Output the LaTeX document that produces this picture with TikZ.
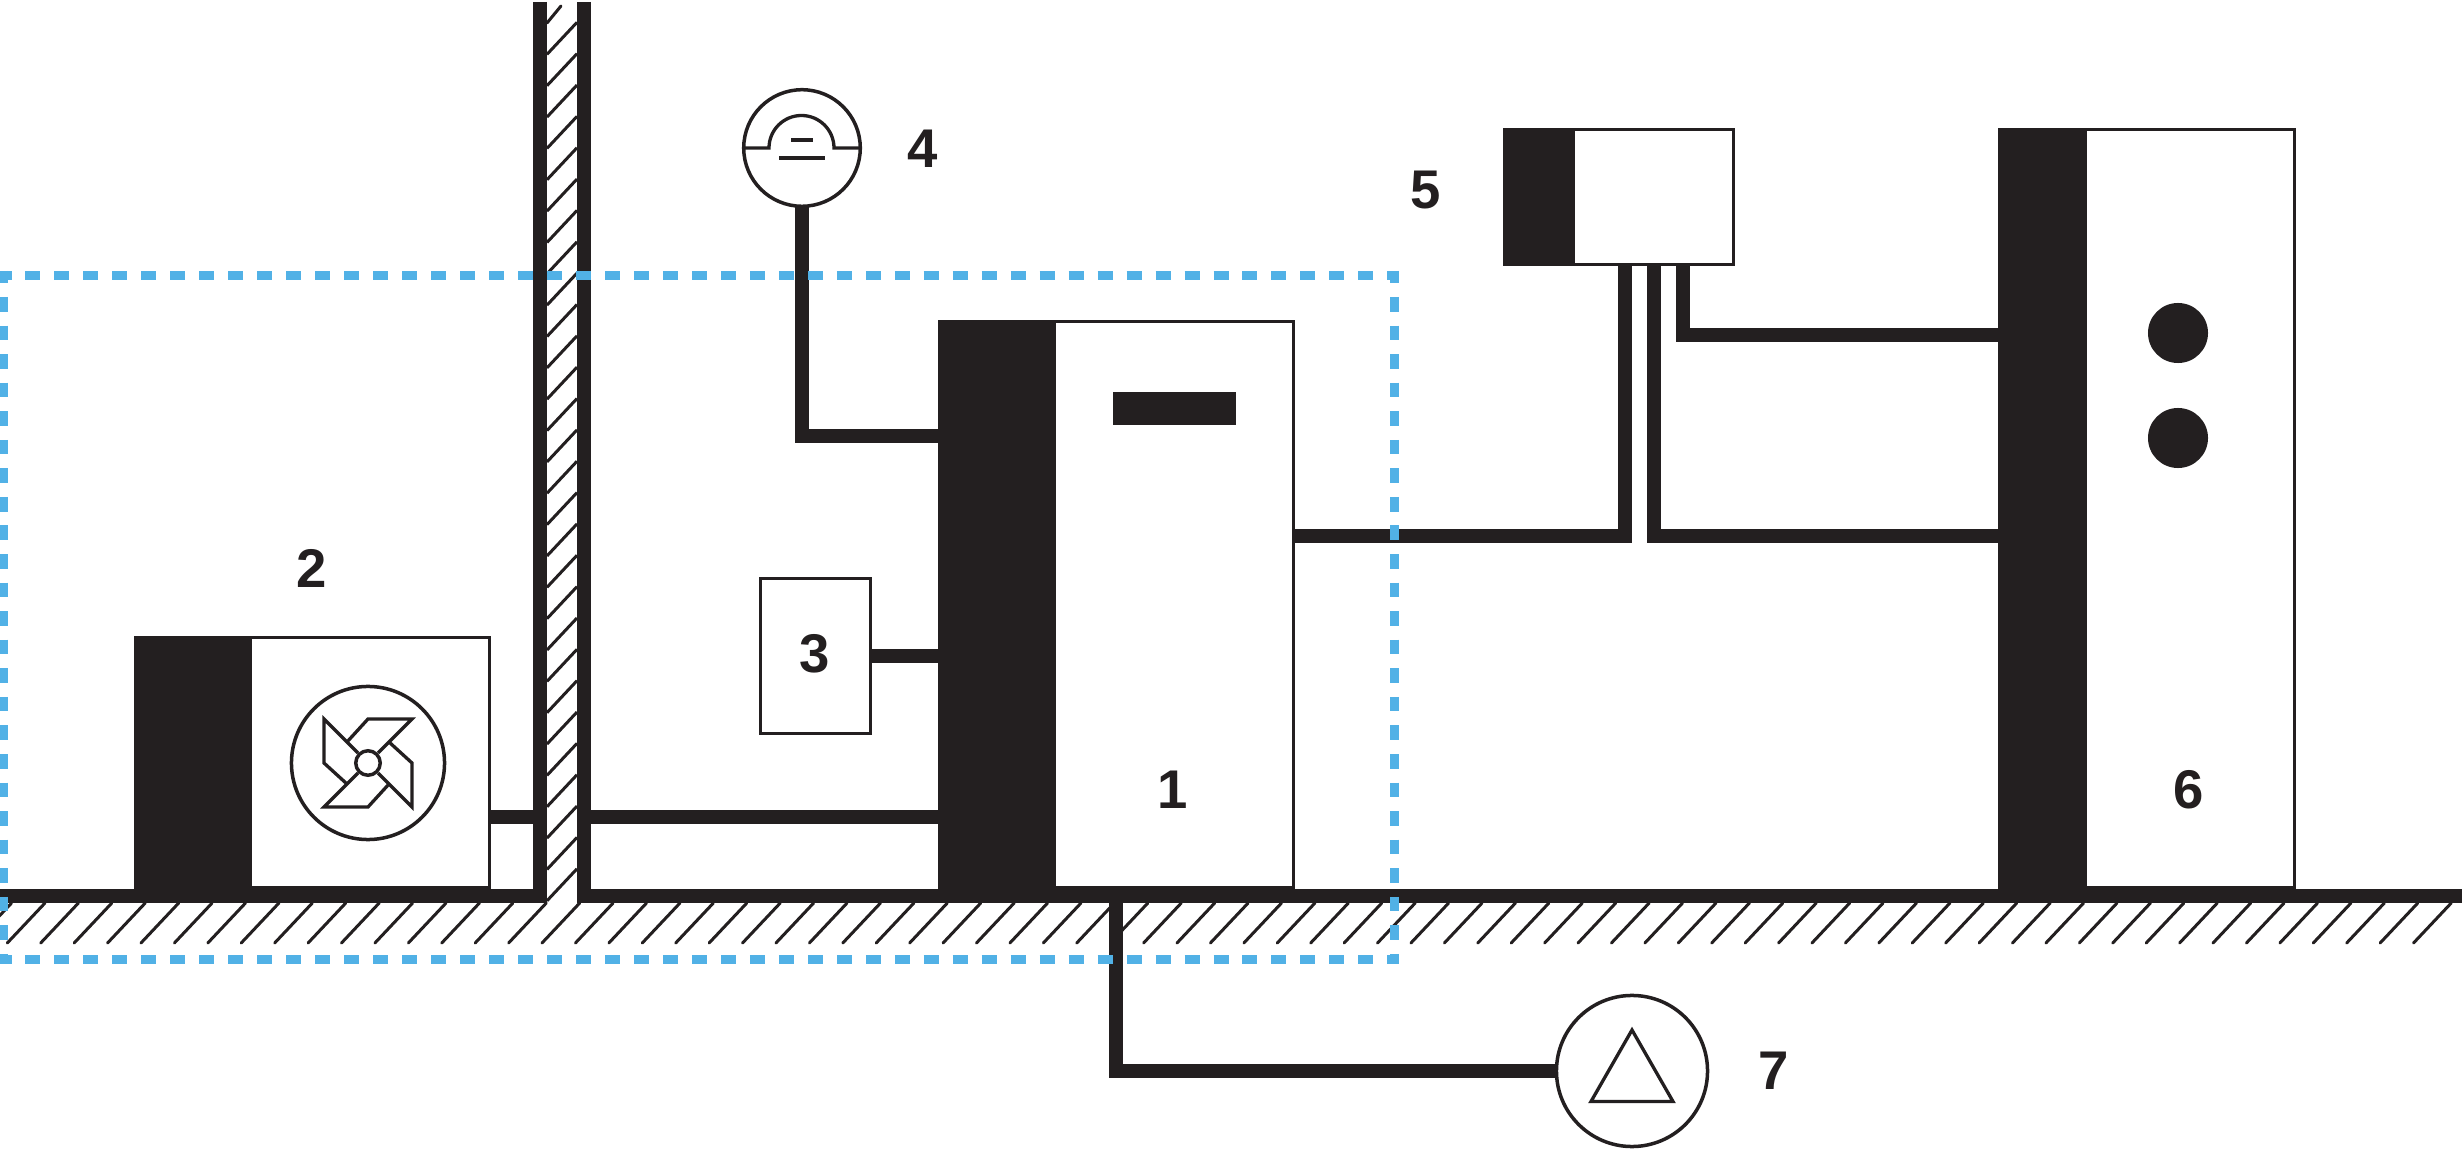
\documentclass[tikz,border=0pt]{standalone}
\usepackage{fontspec}
\setmainfont{Liberation Sans}
\definecolor{ink}{HTML}{231F20}
\definecolor{sky}{HTML}{51B1E6}
\tikzset{
  pipe/.style={draw=ink,line width=0.14cm,line join=miter},
  hatchline/.style={draw=ink,line width=0.03cm,line cap=round},
  thinline/.style={draw=ink,line width=0.033cm,line join=miter},
  unitbox/.style={rectangle,draw=ink,fill=white,line width=0.03cm,inner sep=0,outer sep=0,anchor=north west},
  strip/.style={rectangle,fill=ink,inner sep=0,outer sep=0,anchor=north west},
  dial/.style={circle,draw=ink,fill=white,line width=0.035cm,inner sep=0,outer sep=0},
  num/.style={inner sep=0,outer sep=0,text=ink,font=\fontsize{15.5}{15.5}\selectfont\bfseries},
  zoneh/.style={draw=sky,line width=0.09cm,dash pattern=on 0.15cm off 0.1396cm,dash phase=0.025cm},
  zonev/.style={draw=sky,line width=0.09cm,dash pattern=on 0.146cm off 0.1395cm,dash phase=0.026cm},
}
\begin{document}
\begin{tikzpicture}[x=0.01cm,y=-0.01cm]
  % coordinates are reference pixels
  \useasboundingbox (0,0) rectangle (2462,1158);
  \def\HX{33.42}\def\HW{31.35}
  \coordinate (wallA) at (540,0);
  \coordinate (wallB) at (584,0);

  % ground hatching
  \foreach \k in {-1,...,72}{
    \draw[hatchline] (7.3+\HX*\k,943)--++(37.7,-40);}
  % wall hatching
  \draw[hatchline] (547,23)--++(14,-17);
  \foreach \k in {1,...,28}{
    \draw[hatchline,line cap=butt] (547,23+\HW*\k)--++(30,-32);}

  % wall and ground
  \draw[pipe] (wallA |- 0,2)--(wallA |- 0,903);
  \draw[pipe] (wallB |- 0,2)--(wallB |- 0,903);
  \draw[pipe] (0,896)--(547,896);
  \draw[pipe] (577,896)--(2462,896);

  % units: white box, then dark strip on its left
  \node[unitbox,minimum width=3.54cm,minimum height=2.5cm] (outdoor) at (135.5,637.5){};
  \node[strip,minimum width=1.18cm,minimum height=2.53cm] (outdoorS) at (134,636){};
  \node[unitbox,minimum width=3.54cm,minimum height=5.66cm] (boiler) at (939.5,321.5){};
  \node[strip,minimum width=1.176cm,minimum height=5.69cm] (boilerS) at (938,320){};
  \node[unitbox,minimum width=1.1cm,minimum height=1.55cm] (panel) at (760,578.5){};
  \node[unitbox,minimum width=2.29cm,minimum height=1.35cm] (buffer) at (1504.5,129.5){};
  \node[strip,minimum width=0.72cm,minimum height=1.38cm] (bufferS) at (1503,128){};
  \node[unitbox,minimum width=2.95cm,minimum height=7.58cm] (tank) at (1999.5,129.5){};
  \node[strip,minimum width=0.89cm,minimum height=7.61cm] (tankS) at (1998,128){};
  \node[strip,minimum width=1.23cm,minimum height=0.33cm] (display) at (1113,392){};
  \node[circle,fill=ink,minimum size=0.6cm,inner sep=0] (dotA) at (2178,333){};
  \node[circle,fill=ink,minimum size=0.6cm,inner sep=0] (dotB) at (2178,438){};

  % fan
  \node[dial,minimum size=1.53cm] (fan) at (368,763){};
  \foreach \ang in {0,90,180,270}{
    \draw[thinline,shift={(fan.center)},rotate=\ang] (-10,-10)--(-44,-44)--(-44,0)--(-21,21);}
  \node[dial,minimum size=0.245cm] (hub) at (fan.center){};

  % gauge
  \node[dial,minimum size=1.165cm] (gauge) at (802,148){};
  \draw[thinline] (gauge.west)--(769,148) arc[start angle=180,end angle=360,radius=32.5]--(gauge.east);
  \draw[thinline] (791,140)--(813,140);
  \draw[thinline] (779,158)--(825,158);

  % ground pump
  \node[dial,minimum size=1.51cm] (pump) at (1632,1071){};
  \draw[thinline] (1632,1030)--(1673,1101.5)--(1591,1101.5)--cycle;

  % pipes
  \draw[pipe] (outdoor.east |- 0,817)--(wallA |- 0,817);
  \draw[pipe] (wallB |- 0,817)--(boilerS.west |- 0,817);
  \draw[pipe] (gauge.south) |- (boilerS.west |- 0,436);
  \draw[pipe] (panel.east |- 0,656)--(boilerS.west |- 0,656);
  \draw[pipe] (buffer.south -| 1625,0) |- (boiler.east |- 0,536);
  \draw[pipe] (buffer.south -| 1654,0) |- (tankS.west |- 0,536);
  \draw[pipe] (buffer.south -| 1683,0) |- (tankS.west |- 0,335);
  \coordinate (tap) at (1116,896);
  \draw[pipe] (tap) |- (pump.west);

  % numbers
  \node[num] (n1) at (1173,790){1};
  \node[num] (n2) at (312,568){2};
  \node[num] (n3) at (815,654){3};
  \node[num] (n4) at (923,149){4};
  \node[num] (n5) at (1426,190){5};
  \node[num] (n6) at (2189,790){6};
  \node[num] (n7) at (1774,1071){7};

  % dashed zone goes over everything
  \draw[zoneh] (-1,275.5)--(1399,275.5);
  \draw[zoneh] (-1,959.5)--(1399,959.5);
  \draw[zonev] (3.5,271)--(3.5,964);
  \draw[zonev] (1394.5,271)--(1394.5,964);
\end{tikzpicture}
\end{document}
